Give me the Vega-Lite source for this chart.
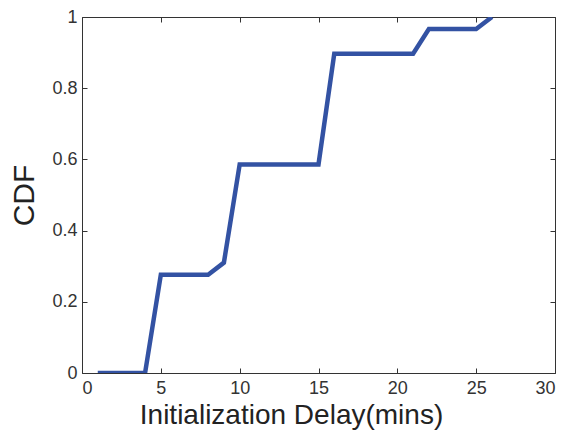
{
  "$schema": "https://vega.github.io/schema/vega-lite/v6.json",
  "width": 473,
  "height": 356,
  "autosize": {"type": "none"},
  "padding": {"left": 82, "top": 17, "right": 17, "bottom": 61},
  "background": "white",
  "config": {
    "view": {"stroke": null},
    "font": "Liberation Sans",
    "axis": {
      "grid": false,
      "domainColor": "#333333",
      "domainWidth": 1,
      "tickColor": "#333333",
      "tickWidth": 1,
      "tickSize": -5,
      "labelFont": "Liberation Sans",
      "labelFontSize": 18,
      "labelColor": "#333333",
      "titleFont": "Liberation Sans",
      "titleFontSize": 28,
      "titleFontWeight": "normal",
      "titleColor": "#222222"
    }
  },
  "data": {
    "values": [
      {"x": 1, "y": 0},
      {"x": 4, "y": 0},
      {"x": 5, "y": 0.276},
      {"x": 8, "y": 0.276},
      {"x": 9, "y": 0.31},
      {"x": 10, "y": 0.586},
      {"x": 15, "y": 0.586},
      {"x": 16, "y": 0.897},
      {"x": 21, "y": 0.897},
      {"x": 22, "y": 0.966},
      {"x": 25, "y": 0.966},
      {"x": 26, "y": 1}
    ]
  },
  "layer": [
    {
      "mark": {"type": "line", "color": "#3352a3", "strokeWidth": 4.5, "clip": true},
      "encoding": {
        "x": {
          "field": "x", "type": "quantitative",
          "scale": {"domain": [0, 30], "nice": false},
          "axis": {"values": [0, 5, 10, 15, 20, 25, 30], "title": "Initialization Delay(mins)", "labelPadding": 11, "titlePadding": 4, "titleX": 209, "titleAnchor": "middle"}
        },
        "y": {
          "field": "y", "type": "quantitative",
          "scale": {"domain": [0, 1], "nice": false},
          "axis": {"values": [0, 0.2, 0.4, 0.6, 0.8, 1], "format": "~g", "title": "CDF", "titleFontSize": 30, "labelPadding": 10, "titlePadding": 12}
        }
      }
    },
    {
      "mark": {"type": "line", "opacity": 0},
      "encoding": {
        "x": {
          "field": "x", "type": "quantitative",
          "scale": {"domain": [0, 30], "nice": false},
          "axis": {"orient": "top", "values": [0, 5, 10, 15, 20, 25, 30], "labels": false, "title": null}
        },
        "y": {
          "field": "y", "type": "quantitative",
          "scale": {"domain": [0, 1], "nice": false},
          "axis": {"orient": "right", "values": [0, 0.2, 0.4, 0.6, 0.8, 1], "labels": false, "title": null}
        }
      }
    }
  ],
  "resolve": {"axis": {"x": "independent", "y": "independent"}}
}
